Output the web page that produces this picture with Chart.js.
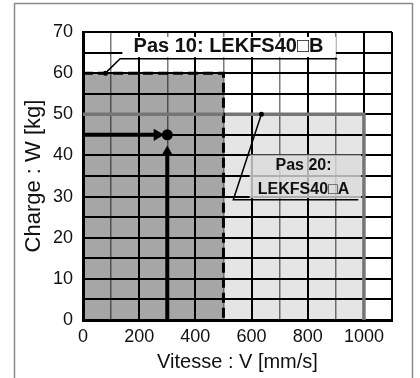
<!DOCTYPE html>
<html>
<head>
<meta charset="utf-8">
<script src="https://cdn.jsdelivr.net/npm/chart.js@4.4.0/dist/chart.umd.min.js"></script>
<style>
  html, body { margin: 0; padding: 0; background: #fff; }
  #wrap { width: 420px; height: 378px; }
</style>
</head>
<body>
<div id="wrap"><canvas id="loadChart" width="420" height="378"></canvas></div>
<script>
// Axis ranges / ticks
const speedMax = 1100;
const loadMax = 70;
const speedStep = 100;
const loadStep = 5;

// Pas 10 (LEKFS40□B) working area: dashed limit
const pas10Speed = [0, 500, 500];
const pas10Load = [60, 60, 0];

// Pas 20 (LEKFS40□A) working area: grey limit
const pas20Speed = [500, 1000, 1000];
const pas20Load = [50, 50, 0];
const pas20TopSpeed = [0, 500];
const pas20TopLoad = [50, 50];

// Operating point and reading arrows
const opSpeed = [300];
const opLoad = [45];
const hArrowSpeed = [0, 264];
const hArrowLoad = [45, 45];
const vArrowSpeed = [300, 300];
const vArrowLoad = [0, 40.7];

// Leader lines for the two labels
const pas10LeaderSpeed = [80, 132, 905];
const pas10LeaderLoad = [60, 63.5, 63.5];
const pas20LeaderSpeed = [635, 535, 980];
const pas20LeaderLoad = [50, 29.2, 29.2];

// Label texts
const pas10Label = ['Pas 10: LEKFS40\u25A1B'];
const pas20Label = ['Pas 20:', 'LEKFS40\u25A1A'];

const FONT = '"Liberation Sans", Arial, Helvetica, sans-serif';

function toPoints(xs, ys) {
    return xs.map((x, i) => ({ x: x, y: ys[i] }));
}

// Frame + white background
const framePlugin = {
    id: 'frame',
    beforeDraw(chart) {
        const ctx = chart.ctx;
        ctx.save();
        ctx.fillStyle = '#fff';
        ctx.fillRect(0, 0, chart.width, chart.height);
        ctx.strokeStyle = '#8a8a8a';
        ctx.lineWidth = 1.5;
        ctx.strokeRect(14.5, 3.5, 398, 400);
        ctx.restore();
    }
};

// Label boxes (under datasets) and texts (over datasets)
const labelPlugin = {
    id: 'labels',
    beforeDatasetsDraw(chart) {
        const ctx = chart.ctx;
        const x = chart.scales.x;
        const y = chart.scales.y;
        ctx.save();
        // Pas 10 box
        ctx.fillStyle = '#fff';
        let x0 = x.getPixelForValue(140), x1 = x.getPixelForValue(900);
        let y0 = y.getPixelForValue(68.8), y1 = y.getPixelForValue(63.9);
        ctx.fillRect(x0, y0, x1 - x0, y1 - y0);
        // Pas 20 box
        ctx.fillStyle = 'rgba(244,244,246,0.8)';
        x0 = x.getPixelForValue(593); x1 = x.getPixelForValue(990);
        y0 = y.getPixelForValue(40.2); y1 = y.getPixelForValue(29.6);
        ctx.fillRect(x0, y0, x1 - x0, y1 - y0);
        ctx.restore();
    },
    afterDatasetsDraw(chart) {
        const ctx = chart.ctx;
        const x = chart.scales.x;
        const y = chart.scales.y;
        ctx.save();
        ctx.fillStyle = '#111';
        ctx.textAlign = 'center';
        ctx.textBaseline = 'middle';
        ctx.font = 'bold 20px ' + FONT;
        ctx.fillText(pas10Label[0], x.getPixelForValue(518), y.getPixelForValue(66.4));
        ctx.font = 'bold 16px ' + FONT;
        ctx.fillText(pas20Label[0], x.getPixelForValue(785), y.getPixelForValue(37.5));
        ctx.fillText(pas20Label[1], x.getPixelForValue(785), y.getPixelForValue(31.7));
        ctx.restore();
    }
};

const ctx = document.getElementById('loadChart').getContext('2d');

const chartConfig = {
    type: 'scatter',
    data: {
        datasets: [
            {
                // light area Pas 20
                data: toPoints(pas20Speed, pas20Load),
                showLine: true,
                fill: 'origin',
                backgroundColor: 'rgba(0,0,0,0.10)',
                borderColor: '#767676',
                borderWidth: 3.5,
                pointRadius: 0,
                order: 12
            },
            {
                // dark area Pas 10
                data: toPoints(pas10Speed, pas10Load),
                showLine: true,
                fill: 'origin',
                backgroundColor: 'rgba(0,0,0,0.35)',
                borderColor: '#000',
                borderWidth: 3,
                borderDash: [10, 5],
                pointRadius: 0,
                order: 11
            },
            {
                // grey 50 kg limit across dark area
                data: toPoints(pas20TopSpeed, pas20TopLoad),
                showLine: true,
                borderColor: '#767676',
                borderWidth: 3.5,
                pointRadius: 0,
                order: 10
            },
            {
                data: toPoints(pas10LeaderSpeed, pas10LeaderLoad),
                showLine: true,
                borderColor: '#000',
                borderWidth: 1.5,
                pointRadius: [2.5, 0, 0],
                pointBackgroundColor: '#000',
                pointBorderWidth: 0,
                order: 4
            },
            {
                data: toPoints(pas20LeaderSpeed, pas20LeaderLoad),
                showLine: true,
                borderColor: '#000',
                borderWidth: 1.5,
                pointRadius: [2.5, 0, 0],
                pointBackgroundColor: '#000',
                pointBorderWidth: 0,
                order: 4
            },
            {
                // horizontal reading arrow
                data: toPoints(hArrowSpeed, hArrowLoad),
                showLine: true,
                borderColor: '#000',
                borderWidth: 4,
                pointStyle: 'triangle',
                rotation: 90,
                pointRadius: [0, 7],
                pointBackgroundColor: '#000',
                pointBorderColor: '#000',
                pointBorderWidth: 0,
                order: 2
            },
            {
                // vertical reading arrow
                data: toPoints(vArrowSpeed, vArrowLoad),
                showLine: true,
                borderColor: '#000',
                borderWidth: 4,
                pointStyle: 'triangle',
                rotation: 0,
                pointRadius: [0, 7],
                pointBackgroundColor: '#000',
                pointBorderColor: '#000',
                pointBorderWidth: 0,
                order: 2
            },
            {
                // operating point
                data: toPoints(opSpeed, opLoad),
                pointRadius: 5.5,
                pointBackgroundColor: '#000',
                pointBorderWidth: 0,
                order: 1
            }
        ]
    },
    options: {
        responsive: false,
        animation: false,
        events: [],
        layout: {
            padding: { left: 14, right: 28, top: 32, bottom: 4 }
        },
        plugins: {
            legend: { display: false },
            tooltip: { enabled: false }
        },
        scales: {
            x: {
                type: 'linear',
                min: 0,
                max: speedMax,
                afterFit: function(scale) { scale.height = 54; },
                ticks: {
                    stepSize: speedStep,
                    padding: 6,
                    color: '#111',
                    font: { family: FONT, size: 18 },
                    maxRotation: 0,
                    autoSkip: false,
                    callback: function(value) {
                        return value % 200 === 0 ? String(value) : '';
                    }
                },
                grid: {
                    drawTicks: false,
                    color: function(c) {
                        const v = c.tick.value;
                        return (v % 200 === 0 || v === speedMax) ? '#000' : '#7a7a7a';
                    },
                    lineWidth: function(c) {
                        const v = c.tick.value;
                        return (v % 200 === 0 || v === speedMax) ? 2 : 1.5;
                    }
                },
                border: { display: true, color: '#000', width: 3 },
                title: {
                    display: true,
                    text: 'Vitesse : V [mm/s]',
                    color: '#111',
                    font: { family: FONT, size: 20 },
                    padding: { top: 0, bottom: 0 }
                }
            },
            y: {
                type: 'linear',
                min: 0,
                max: loadMax,
                afterFit: function(scale) { scale.width = 69; },
                ticks: {
                    stepSize: loadStep,
                    padding: 10,
                    color: '#111',
                    font: { family: FONT, size: 18 },
                    autoSkip: false,
                    callback: function(value) {
                        return value % 10 === 0 ? String(value) : '';
                    }
                },
                grid: {
                    drawTicks: false,
                    color: '#000',
                    lineWidth: 2
                },
                border: { display: true, color: '#000', width: 3 },
                title: {
                    display: true,
                    text: 'Charge : W [kg]',
                    color: '#111',
                    font: { family: FONT, size: 22 },
                    padding: { top: 7, bottom: 0 }
                }
            }
        }
    },
    plugins: [framePlugin, labelPlugin]
};

const loadChart = new Chart(ctx, chartConfig);
</script>
</body>
</html>
